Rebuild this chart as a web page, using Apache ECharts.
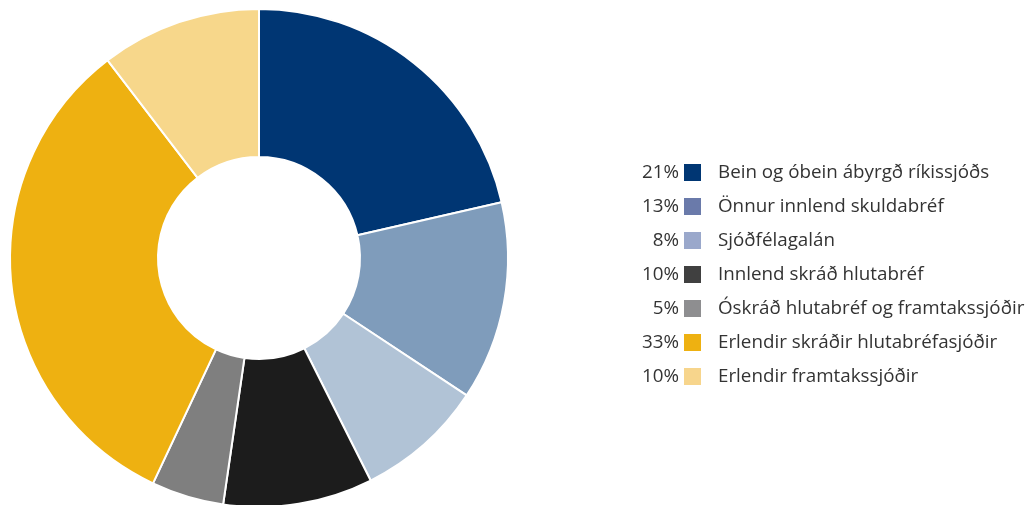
<!DOCTYPE html>
<html>
<head>
<meta charset="utf-8">
<script src="https://cdn.jsdelivr.net/npm/echarts@6/dist/echarts.min.js"></script>
<style>html,body{margin:0;padding:0;background:#fff}#c{width:1029px;height:505px}</style>
</head>
<body>
<div id="c"></div>
<script>
const categories = ["Bein og óbein ábyrgð ríkissjóðs","Önnur innlend skuldabréf","Sjóðfélagalán","Innlend skráð hlutabréf","Óskráð hlutabréf og framtakssjóðir","Erlendir skráðir hlutabréfasjóðir","Erlendir framtakssjóðir"];
const values = [21.4, 12.9, 8.3, 9.7, 4.7, 32.6, 10.4];
const percentLabels = ["21%","13%","8%","10%","5%","33%","10%"];
const sliceColors = ["#003673","#7f9cbb","#b1c3d6","#1c1c1c","#7f7f7f","#eeb111","#f7d78b"];
const legendColors = ["#003673","#6a7aaa","#9aa8cb","#404040","#8e8e90","#eeb111","#f7d58c"];

const chart = echarts.init(document.getElementById('c'));
const font = "'Open Sans', sans-serif";
const ts = {fontFamily: font, fontSize: 18.8, color: '#333333', lineHeight: 17, height: 17};
chart.setOption({
  animation: false,
  legend: [
    {
      orient: 'vertical', right: 328, top: 163, align: 'right',
      itemWidth: 17, itemHeight: 17, itemGap: 15, selectedMode: false,
      icon: 'rect', padding: 0,
      data: categories.map((c,i)=>({name:c, itemStyle:{color:legendColors[i], borderColor:legendColors[i], borderWidth:0}})),
      formatter: name => percentLabels[categories.indexOf(name)],
      textStyle: ts
    },
    {
      orient: 'vertical', left: 713, top: 163,
      itemWidth: 0, itemHeight: 17, itemGap: 15, selectedMode: false,
      icon: 'rect', padding: 0,
      data: categories.map(c=>({name:c, itemStyle:{color:'rgba(0,0,0,0)', borderColor:'rgba(0,0,0,0)', borderWidth:0}})),
      textStyle: ts
    }
  ],
  series: [{
    type: 'pie',
    center: [259, 258],
    radius: [101, 249],
    startAngle: 90,
    clockwise: true,
    label: {show: false},
    labelLine: {show: false},
    emphasis: {disabled: true},
    itemStyle: {borderColor: '#fff', borderWidth: 2},
    data: categories.map((c,i)=>({name:c, value:values[i], itemStyle:{color:sliceColors[i]}}))
  }]
});
</script>
</body>
</html>
